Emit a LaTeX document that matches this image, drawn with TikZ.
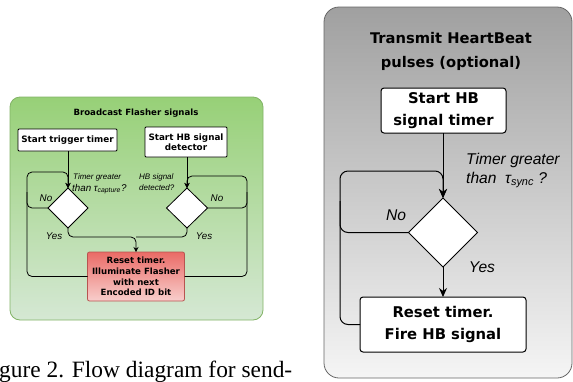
\documentclass[tikz,border=0pt]{standalone}
\usepackage{fontspec}
\newfontfamily\dv{DejaVu Sans}
\newfontfamily\lab{Liberation Sans}
\newfontfamily\capf{Liberation Serif}
\usetikzlibrary{shapes.geometric,arrows.meta,calc}
\definecolor{gtop}{HTML}{97D077}
\definecolor{gbot}{HTML}{D5E8D4}
\definecolor{gbrd}{HTML}{82B366}
\definecolor{rtop}{HTML}{EA6B66}
\definecolor{rbot}{HTML}{F8CECC}
\definecolor{rbrd}{HTML}{B85450}
\definecolor{ktop}{HTML}{A0A0A0}
\definecolor{kbot}{HTML}{F5F5F5}
\definecolor{kbrd}{HTML}{666666}
\tikzset{
  lpanel/.style={draw=gbrd, line width=0.8pt, top color=gtop, bottom color=gbot, rounded corners=10pt, inner sep=0, outer sep=0},
  rpanel/.style={draw=kbrd, line width=0.8pt, top color=ktop, bottom color=kbot, rounded corners=15pt, inner sep=0, outer sep=0},
  lbox/.style={draw, fill=white, line width=0.8pt, inner sep=0, outer sep=0, align=center, rounded corners=1pt, font=\dv\bfseries\fontsize{8.8}{10.5}\selectfont},
  redbox/.style={lbox, draw=rbrd, fill=none, top color=rtop, bottom color=rbot, rounded corners=2pt, font=\dv\bfseries\fontsize{8.6}{10.8}\selectfont},
  rbox/.style={draw, fill=white, line width=1pt, inner sep=0, outer sep=0, align=center, rounded corners=3pt, font=\dv\bfseries\fontsize{14.8}{22}\selectfont},
  dia/.style={diamond, draw, fill=white, inner sep=0, outer sep=0, aspect=1},
  ltitle/.style={font=\dv\bfseries\fontsize{8.6}{10}\selectfont, inner sep=0},
  rtitle/.style={font=\dv\bfseries\fontsize{14.7}{24}\selectfont, inner sep=0, align=center},
  llab/.style={font=\lab\itshape\fontsize{8}{9}\selectfont, inner sep=0},
  llabb/.style={font=\lab\itshape\fontsize{9.8}{11}\selectfont, inner sep=0},
  rlab/.style={font=\lab\itshape\fontsize{15.6}{18}\selectfont, inner sep=0},
  lline/.style={line width=0.8pt, rounded corners=5pt},
  rline/.style={line width=1pt, rounded corners=8pt},
  ltip/.style={-{Stealth[length=5pt,width=5pt]}},
  rtip/.style={-{Stealth[length=9pt,width=8pt]}}
}
\begin{document}
\begin{tikzpicture}[x=1pt,y=-1pt]
\useasboundingbox (0,0) rectangle (573,381);
% ---------- left panel ----------
\node[lpanel, minimum width=253pt, minimum height=223pt] (lp) at (136.5,208.5) {};
\node[ltitle] (lt) at (136,113) {Broadcast Flasher signals};
\node[lbox, minimum width=99pt, minimum height=22pt] (lst) at (67.5,140) {Start trigger timer};
\node[lbox, minimum width=82pt, minimum height=30pt] (lhb) at (186,142) {Start HB signal\\detector};
\node[dia, minimum width=40pt, minimum height=40pt, line width=0.8pt] (ld1) at (68,208) {};
\node[dia, minimum width=41pt, minimum height=40pt, line width=0.8pt] (ld2) at (187,208) {};
\node[redbox, minimum width=97pt, minimum height=49pt] (lr) at (136,276.5) {Reset timer.\\Illuminate Flasher\\with next\\Encoded ID bit};
\coordinate (lmid) at (136,237);
\coordinate (lcl) at (27,172);
\coordinate (lcr) at (247,176);
\draw[lline, ltip] (lst.south -| ld1.north) -- (ld1.north);
\draw[lline, ltip] (lhb.south -| ld2.north) -- (ld2.north);
\draw[lline, ltip] (lr.west) -| (lcl) -| (ld1.north);
\draw[lline] (ld1.west) -| ($(lcl)+(0,20)$);
\draw[lline, ltip] (lr.east) -| (lcr) -| (ld2.north);
\draw[lline] (ld2.east) -| ($(lcr)+(0,16)$);
\draw[lline, ltip] (ld1.south) |- (lmid) -- (lr.north);
\draw[lline] (ld2.south) |- (lmid);
\node[llab, anchor=west] (lq1a) at (73,177) {Timer greater};
\node[llabb, anchor=west] (lq1b) at (72,189) {than τ\textsubscript{capture}?};
\node[llab, anchor=west] (lq2a) at (139,177) {HB signal};
\node[llab, anchor=west] (lq2b) at (139,188) {detected?};
\node[llabb] (lno1) at (46,198) {No};
\node[llabb] (lno2) at (217,198) {No};
\node[llabb] (lyes1) at (54,236) {Yes};
\node[llabb] (lyes2) at (204,236) {Yes};
% ---------- right panel ----------
\node[rpanel, minimum width=248pt, minimum height=371pt] (rp) at (448,192.5) {};
\node[rtitle] (rt) at (451,51) {Transmit HeartBeat\\pulses (optional)};
\node[rbox, minimum width=125pt, minimum height=45pt] (rst) at (443.5,110.5) {Start HB\\signal timer};
\node[dia, minimum width=69pt, minimum height=69pt, line width=1pt] (rd) at (443,232.5) {};
\node[rbox, minimum width=166pt, minimum height=55pt] (rr) at (443,324.5) {Reset timer.\\Fire HB signal};
\coordinate (rcl) at (340,171);
\draw[rline, rtip] (rst.south -| rd.north) -- (rd.north);
\draw[rline, rtip] (rr.west) -| (rcl) -| (rd.north);
\draw[rline] (rd.west) -| ($(rcl)+(0,30)$);
\draw[rline, rtip] (rd.south) -- (rr.north);
\node[rlab, anchor=west] (rq1) at (466,160) {Timer greater};
\node[rlab, anchor=west] (rq2) at (466,180) {than \ τ\textsubscript{sync} ?};
\node[rlab] (rno) at (396,215) {No};
\node[rlab] (ryes) at (482,267) {Yes};
% ---------- caption ----------
\node[font=\capf\fontsize{23.4}{26}\selectfont, anchor=base west, inner sep=0] (cap) at (-1,377) {gure 2. Flow diagram for send-};
\end{tikzpicture}
\end{document}
